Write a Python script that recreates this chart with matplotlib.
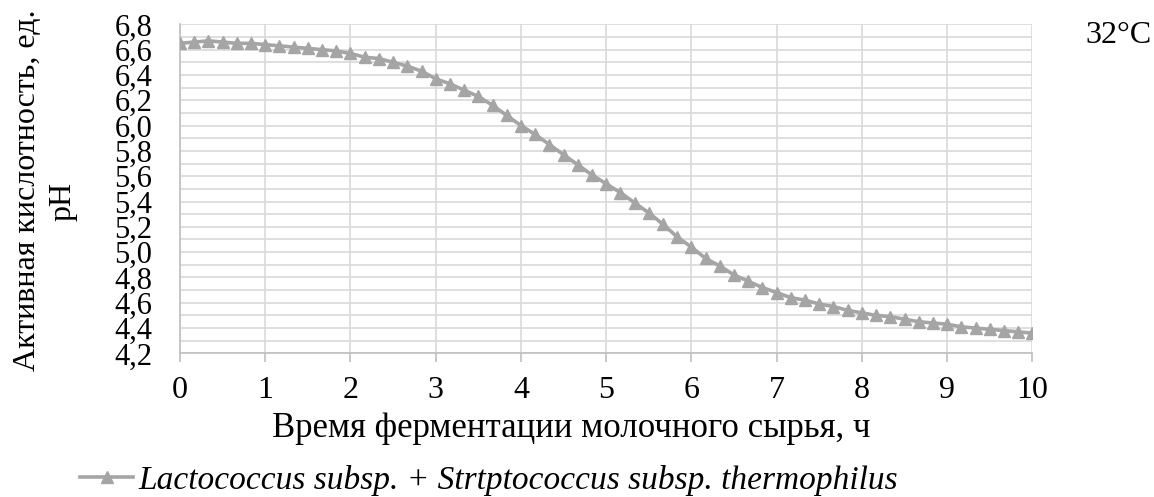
import matplotlib.pyplot as plt
from matplotlib.ticker import MultipleLocator

# Time of fermentation, minutes (every 10 min from 0 to 10 h)
time_min = [0, 10, 20, 30, 40, 50, 60, 70, 80, 90, 100, 110, 120,
            130, 140, 150, 160, 170, 180, 190, 200, 210, 220, 230, 240,
            250, 260, 270, 280, 290, 300, 310, 320, 330, 340, 350, 360,
            370, 380, 390, 400, 410, 420, 430, 440, 450, 460, 470, 480,
            490, 500, 510, 520, 530, 540, 550, 560, 570, 580, 590, 600]
ph_values = [6.65, 6.66, 6.67, 6.66, 6.65, 6.65, 6.64, 6.63, 6.62, 6.61, 6.60, 6.59, 6.57,
             6.54, 6.53, 6.50, 6.47, 6.43, 6.37, 6.33, 6.28, 6.23, 6.16, 6.08, 6.00,
             5.93, 5.85, 5.77, 5.69, 5.61, 5.54, 5.47, 5.39, 5.31, 5.22, 5.12, 5.04,
             4.95, 4.89, 4.82, 4.77, 4.72, 4.68, 4.64, 4.62, 4.59, 4.57, 4.54, 4.52,
             4.50, 4.49, 4.47, 4.45, 4.44, 4.43, 4.41, 4.40, 4.39, 4.38, 4.37, 4.36]
hours = [m / 60 for m in time_min]

x_ticks = [0, 1, 2, 3, 4, 5, 6, 7, 8, 9, 10]
y_ticks = [4.2, 4.4, 4.6, 4.8, 5.0, 5.2, 5.4, 5.6, 5.8, 6.0, 6.2, 6.4, 6.6, 6.8]
y_labels = ['4,2', '4,4', '4,6', '4,8', '5,0', '5,2', '5,4', '5,6', '5,8',
            '6,0', '6,2', '6,4', '6,6', '6,8']
series_name = 'Lactococcus subsp. + Strtptococcus subsp. thermophilus'

plt.rcParams['font.family'] = ['Liberation Serif', 'DejaVu Serif']

fig = plt.figure(figsize=(11.54, 4.97), dpi=100)
ax = fig.add_axes([0.156, 0.289, 0.7386, 0.662])

line, = ax.plot(hours, ph_values, color='#A5A5A5', lw=2.6,
                marker='^', markersize=8.5, label=series_name, zorder=3)

ax.set_xlim(0, 10)
ax.set_ylim(4.2, 6.8)
ax.set_xticks(x_ticks)
ax.set_yticks(y_ticks)
ax.set_yticklabels(y_labels)
ax.yaxis.set_minor_locator(MultipleLocator(0.1))

ax.grid(which='major', color='#D9D9D9', lw=1.2)
ax.grid(which='minor', axis='y', color='#D9D9D9', lw=1.2)
ax.set_axisbelow(True)

for side in ['top', 'right']:
    ax.spines[side].set_visible(False)
for side in ['left', 'bottom']:
    ax.spines[side].set_color('#BFBFBF')
    ax.spines[side].set_linewidth(1.2)

ax.tick_params(axis='x', which='major', length=6.5, width=1.2,
               color='#BFBFBF', pad=10, labelsize=23)
ax.tick_params(axis='y', which='both', length=0, pad=20, labelsize=22)

# axis titles
fig.text(571 / 1154, 0.1213, 'Время ферментации молочного сырья, ч',
         ha='center', va='baseline', fontsize=25)
fig.text(0.0235, 0.618, 'Активная кислотность, ед.', rotation=90,
         ha='center', va='center', fontsize=23)
fig.text(0.0545, 0.594, 'pH', rotation=90,
         ha='center', va='center', fontsize=23)

fig.text(0.998, 0.914, '32°C', ha='right', va='baseline', fontsize=23)

fig.legend(handles=[line], loc='center left', bbox_to_anchor=(80 / 1154, 0.0332),
           frameon=False, borderpad=0, borderaxespad=0,
           handlelength=1.6, handletextpad=0.15,
           prop={'style': 'italic', 'size': 24})

fig.savefig('out.png', dpi=100)
